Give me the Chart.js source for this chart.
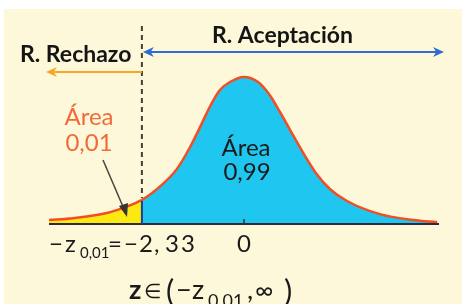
<!DOCTYPE html>
<html>
<head>
<meta charset="utf-8">
<script src="https://cdn.jsdelivr.net/npm/chart.js@4.4.0/dist/chart.umd.min.js"></script>
<style>
  html, body { margin: 0; padding: 0; background: #ffffff; }
  #wrap { width: 462px; height: 304px; }
</style>
</head>
<body>
<div id="wrap"><canvas id="normalChart" width="462" height="304"></canvas></div>
<script>
// curve: z value and curve height
const zValues = [-4.45, -3.90, -3.13, -2.76, -2.33, -1.85, -1.53, -1.23, -1.00, -0.78, -0.55, -0.32, 0, 0.32, 0.59, 0.82, 1.05, 1.35, 1.64, 1.96, 2.35, 3.10, 3.86, 4.41];
const densityValues = [0.011, 0.016, 0.030, 0.044, 0.066, 0.110, 0.151, 0.211, 0.266, 0.321, 0.367, 0.389, 0.403, 0.389, 0.353, 0.307, 0.258, 0.195, 0.140, 0.096, 0.063, 0.027, 0.011, 0.005];
const zCritical = -2.33;
const zRange = [-4.45, 4.45];
const tickValues = [0];
const tickLabels = ['0'];

const FONT = 'Lato, "Open Sans", sans-serif';
const CREAM = '#FDF8DA';
const YELLOW = '#FBEA12';
const CYAN = '#1FC6F0';

const curvePoints = zValues.map((z, i) => ({ x: z, y: densityValues[i] }));

function arrowHead(ctx, x, y, dir, len, half, color) {
    ctx.fillStyle = color;
    ctx.beginPath();
    ctx.moveTo(x, y);
    ctx.lineTo(x - dir * len, y - half);
    ctx.lineTo(x - dir * len * 0.7, y);
    ctx.lineTo(x - dir * len, y + half);
    ctx.closePath();
    ctx.fill();
}

// draw pieces of a formula, each at its own x
function drawPieces(ctx, pieces) {
    pieces.forEach(p => {
        ctx.font = p.font;
        ctx.fillText(p.t, p.x, p.y);
    });
}

const backgroundPlugin = {
    id: 'cream',
    beforeDraw(chart) {
        const ctx = chart.ctx;
        ctx.save();
        ctx.fillStyle = '#ffffff';
        ctx.fillRect(0, 0, chart.width, chart.height);
        ctx.fillStyle = CREAM;
        ctx.fillRect(4, 9, chart.width - 4, chart.height - 9);
        ctx.restore();
    }
};

const annotationPlugin = {
    id: 'annotations',
    afterDatasetsDraw(chart) {
        const ctx = chart.ctx;
        const xs = chart.scales.x;
        const ys = chart.scales.y;
        const base = ys.getPixelForValue(0);
        const cutX = xs.getPixelForValue(zCritical);
        const cutTop = ys.getPixelForValue(densityValues[zValues.indexOf(zCritical)]);
        ctx.save();

        // baseline and tick
        ctx.strokeStyle = '#2c2c3c';
        ctx.lineWidth = 2;
        ctx.beginPath();
        ctx.moveTo(xs.getPixelForValue(zRange[0]), base);
        ctx.lineTo(xs.getPixelForValue(zRange[1]), base);
        ctx.stroke();
        tickValues.forEach(v => {
            const tx = xs.getPixelForValue(v);
            ctx.lineWidth = 1.5;
            ctx.beginPath();
            ctx.moveTo(tx, base - 5);
            ctx.lineTo(tx, base);
            ctx.stroke();
        });

        // border between regions
        ctx.strokeStyle = '#1d3d9a';
        ctx.lineWidth = 2;
        ctx.beginPath();
        ctx.moveTo(cutX, base);
        ctx.lineTo(cutX, cutTop + 1);
        ctx.stroke();

        // dashed critical line
        ctx.strokeStyle = '#4a3d33';
        ctx.setLineDash([5, 4]);
        ctx.beginPath();
        ctx.moveTo(cutX, 26);
        ctx.lineTo(cutX, cutTop - 2);
        ctx.stroke();
        ctx.setLineDash([]);

        // acceptance arrow
        const blue = '#2d6cd3';
        ctx.strokeStyle = blue;
        ctx.lineWidth = 2;
        ctx.beginPath();
        ctx.moveTo(cutX + 6, 52);
        ctx.lineTo(437, 52);
        ctx.stroke();
        arrowHead(ctx, cutX + 1, 52, -1, 11, 5, blue);
        arrowHead(ctx, 444, 52, 1, 11, 5, blue);

        // rejection arrow
        const orange = '#F7A822';
        ctx.strokeStyle = orange;
        ctx.beginPath();
        ctx.moveTo(cutX, 72);
        ctx.lineTo(53, 72);
        ctx.stroke();
        arrowHead(ctx, 46, 72, -1, 11, 5, orange);

        // pointer to small area
        ctx.strokeStyle = '#4b4141';
        ctx.lineWidth = 1.5;
        ctx.beginPath();
        ctx.moveTo(103, 160);
        ctx.lineTo(124, 209);
        ctx.stroke();
        ctx.fillStyle = '#3a3232';
        ctx.beginPath();
        ctx.moveTo(127, 217);
        ctx.lineTo(119, 206);
        ctx.lineTo(128, 203);
        ctx.closePath();
        ctx.fill();

        // headings
        ctx.fillStyle = '#151515';
        ctx.textBaseline = 'alphabetic';
        ctx.textAlign = 'left';
        ctx.font = 'bold 23px ' + FONT;
        ctx.fillText('R. Rechazo', 20, 62);
        ctx.fillText('R. Aceptación', 212, 43);

        // area labels
        ctx.textAlign = 'center';
        ctx.font = '24px ' + FONT;
        ctx.fillStyle = '#F26A38';
        ctx.fillText('Área', 89, 125);
        ctx.fillText('0,01', 89, 151);
        ctx.fillStyle = '#1a1a1a';
        ctx.fillText('Área', 246, 156);
        ctx.fillText('0,99', 247, 180);

        // tick label
        ctx.font = '24px ' + FONT;
        tickValues.forEach((v, i) => {
            ctx.fillText(tickLabels[i], xs.getPixelForValue(v), 252);
        });

        // -z_{0,01} = -2,33
        ctx.textAlign = 'left';
        const big = '24px ' + FONT;
        const sub = '15px ' + FONT;
        drawPieces(ctx, [
            { t: '−', x: 49, y: 252, font: big },
            { t: 'z', x: 65, y: 252, font: big },
            { t: '0,01', x: 80, y: 258, font: sub },
            { t: '=', x: 108, y: 252, font: big },
            { t: '−', x: 124, y: 252, font: big },
            { t: '2', x: 139, y: 252, font: big },
            { t: ',', x: 154, y: 252, font: big },
            { t: '3', x: 165, y: 252, font: big },
            { t: '3', x: 181, y: 252, font: big }
        ]);

        // z in (-z_{0,01}, inf)
        const big2 = '27px ' + FONT;
        const sub2 = '18px ' + FONT;
        drawPieces(ctx, [
            { t: 'z', x: 129, y: 299, font: 'bold 27px ' + FONT },
            { t: '∈', x: 144, y: 298, font: '20px ' + FONT },
            { t: '(', x: 166, y: 302, font: '31px ' + FONT },
            { t: '−', x: 176, y: 299, font: big2 },
            { t: 'z', x: 192, y: 299, font: big2 },
            { t: '0,01', x: 208, y: 307, font: sub2 },
            { t: ',', x: 247, y: 299, font: big2 },
            { t: '∞', x: 255, y: 299, font: '25px ' + FONT },
            { t: ')', x: 284, y: 302, font: '31px ' + FONT }
        ]);

        ctx.restore();
    }
};

new Chart(document.getElementById('normalChart'), {
    type: 'scatter',
    data: {
        datasets: [{
            data: curvePoints,
            showLine: true,
            pointRadius: 0,
            borderColor: '#F24E26',
            borderWidth: 2.5,
            cubicInterpolationMode: 'monotone',
            fill: 'origin',
            backgroundColor: CYAN,
            segment: {
                backgroundColor: ctx => ctx.p0.parsed.x < zCritical ? YELLOW : CYAN
            }
        }]
    },
    options: {
        responsive: false,
        animation: false,
        layout: { padding: { left: 49, right: 23, top: 5, bottom: 80 } },
        plugins: { legend: { display: false }, tooltip: { enabled: false } },
        scales: {
            x: { type: 'linear', min: zRange[0], max: zRange[1], display: false },
            y: { min: 0, max: 0.6, display: false }
        }
    },
    plugins: [backgroundPlugin, annotationPlugin]
});
</script>
</body>
</html>
